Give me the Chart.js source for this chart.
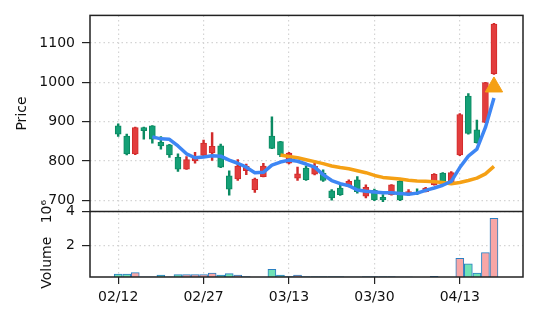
<!DOCTYPE html>
<html>
<head>
<meta charset="utf-8">
<script src="https://cdn.jsdelivr.net/npm/chart.js@4.4.1/dist/chart.umd.min.js"></script>
<style>
  html, body { margin: 0; padding: 0; background: #fff; }
  canvas { display: block; }
</style>
</head>
<body>
<canvas id="chart" width="537" height="322"></canvas>
<script>
// daily candles (index 0 = 02/12)
const opens  = [889, 863, 818, 885, 889, 847, 841, 809, 779, 800, 814, 820, 838, 762, 754, 775, 727, 760, 863, 849,
                794, 756, 782, 766, 769, 724, 731, 735, 752, 710, 725, 707, 714, 748, 714, 720, 722, 739, 769, 745,
                815, 965, 879, 898, 1022];
const closes = [868, 818, 885, 877, 855, 838, 815, 779, 803, 810, 845, 837, 784, 728, 787, 786, 754, 787, 832, 815,
                820, 767, 752, 786, 750, 706, 714, 748, 722, 733, 701, 701, 739, 701, 722, 716, 731, 766, 743, 770,
                918, 870, 846, 999, 1148];
const highs  = [894, 868, 886, 886, 890, 862, 842, 818, 811, 822, 853, 872, 843, 775, 803, 792, 756, 794, 912, 850,
                822, 784, 787, 794, 777, 727, 739, 752, 760, 739, 728, 714, 740, 750, 727, 729, 733, 768, 770, 773,
                920, 971, 904, 1000, 1150];
const lows   = [862, 815, 816, 855, 845, 830, 809, 773, 778, 794, 811, 801, 783, 713, 750, 765, 720, 759, 831, 811,
                792, 750, 750, 764, 748, 700, 712, 734, 718, 706, 699, 696, 713, 699, 712, 714, 721, 738, 741, 744,
                813, 868, 845, 897, 1020];
// volume in millions
const volumes = [0.28, 0.28, 0.36, 0.11, 0.11, 0.22, 0.11, 0.24, 0.24, 0.24, 0.24, 0.34, 0.22, 0.30, 0.22, 0.12, 0.10, 0.10, 0.56, 0.22,
                 0.12, 0.22, 0.12, 0.12, 0.12, 0.12, 0.12, 0.11, 0.11, 0.12, 0.12, 0.12, 0.12, 0.11, 0.11, 0.10, 0.10, 0.14, 0.10, 0.10,
                 1.22, 0.88, 0.34, 1.55, 3.60];
// moving average lines as drawn (null = not drawn yet)
const maFast = [null, null, null, null, 861, 856, 855, 838, 818, 808, 810, 813, 812, 802, 794, 784, 770, 771, 789, 797,
                802, 799, 792, 784, 765, 750, 742, 737, 726, 723, 721, 719, 719, 717, 715, 718, 725, 731, 738, 748,
                783, 812, 830, 885, 960];
const maSlow = [null, null, null, null, null, null, null, null, null, null, null, null, null, null, null, null, null, null, null, 815,
                811, 808, 803, 798, 793, 787, 783, 780, 775, 770, 763, 758, 756, 754, 751, 749, 748, 747, 745, 742,
                745, 750, 756, 767, 786];
// buy signal marker
const signalIndex = [44];
const signalPrice = [988];

const tickIndex  = [0, 10, 20, 30, 40];
const tickLabels = ['02/12', '02/27', '03/13', '03/30', '04/13'];
const priceTicks = [700, 800, 900, 1000, 1100];
const volumeTicks = [2, 4];

const idx = opens.map((_, i) => i);
const up = i => closes[i] >= opens[i];

const RED = '#e23d3d', RED_EDGE = '#d22b2b';
const GREEN = '#14a076', GREEN_EDGE = '#0b8a62';
const font = { family: 'DejaVu Sans', size: 14 };
const gridColor = '#d4d4d4';
const gridDash = [1.5, 3];

const framePlugin = {
    id: 'frame',
    afterDatasetsDraw(chart) {
        const { ctx, chartArea: a, scales } = chart;
        const split = scales.y.top < scales.yv.top ? scales.y.bottom : scales.yv.bottom;
        ctx.save();
        ctx.strokeStyle = '#222';
        ctx.lineWidth = 1.5;
        ctx.strokeRect(a.left, a.top, a.right - a.left, a.bottom - a.top);
        ctx.beginPath();
        ctx.moveTo(a.left, split);
        ctx.lineTo(a.right, split);
        ctx.stroke();
        ctx.restore();
    }
};

const gridOpts = (len) => ({
    color: gridColor, lineWidth: 1.2, offset: false,
    tickLength: len, tickColor: '#222', tickWidth: 1.2, tickBorderDash: []
});

new Chart(document.getElementById('chart'), {
    type: 'bar',
    data: {
        datasets: [
            {
                type: 'scatter',
                data: signalIndex.map((x, k) => ({ x: x, y: signalPrice[k] })),
                yAxisID: 'y',
                pointStyle: 'triangle',
                pointRadius: 10,
                backgroundColor: '#f5a014',
                borderColor: '#f5a014',
                order: 0
            },
            {
                type: 'line',
                data: idx.map(i => ({ x: i, y: maFast[i] })),
                yAxisID: 'y',
                borderColor: '#3d86f4',
                borderWidth: 3.5,
                pointRadius: 0,
                borderJoinStyle: 'round',
                spanGaps: false,
                order: 1
            },
            {
                type: 'line',
                data: idx.map(i => ({ x: i, y: maSlow[i] })),
                yAxisID: 'y',
                borderColor: '#f5a014',
                borderWidth: 3.5,
                pointRadius: 0,
                borderJoinStyle: 'round',
                spanGaps: false,
                order: 2
            },
            {
                // candle bodies
                data: idx.map(i => ({ x: i, y: [opens[i], closes[i]] })),
                yAxisID: 'y',
                grouped: false,
                barThickness: 6,
                backgroundColor: idx.map(i => up(i) ? RED : GREEN),
                borderColor: idx.map(i => up(i) ? RED_EDGE : GREEN_EDGE),
                borderWidth: 1,
                borderSkipped: false,
                order: 3
            },
            {
                // wicks
                data: idx.map(i => ({ x: i, y: [lows[i], highs[i]] })),
                yAxisID: 'y',
                grouped: false,
                barThickness: 1.8,
                backgroundColor: idx.map(i => up(i) ? RED_EDGE : GREEN_EDGE),
                borderWidth: 0,
                order: 4
            },
            {
                data: idx.map(i => ({ x: i, y: volumes[i] })),
                yAxisID: 'yv',
                grouped: false,
                barThickness: 8,
                backgroundColor: idx.map(i => up(i) ? '#f8a6a6' : '#6fe2b6'),
                borderColor: '#2a7fc2',
                borderWidth: 1,
                borderSkipped: false,
                order: 5
            }
        ]
    },
    options: {
        responsive: false,
        animation: false,
        devicePixelRatio: 1,
        layout: { padding: { top: 15, right: 14, left: 0, bottom: 0 } },
        plugins: { legend: { display: false }, tooltip: { enabled: false } },
        scales: {
            x: {
                type: 'linear',
                offset: false,
                min: -3.3,
                max: 47.4,
                afterBuildTicks: s => { s.ticks = tickIndex.map(v => ({ value: v })); },
                afterFit: s => { s.height = 45; },
                ticks: {
                    callback: v => tickLabels[tickIndex.indexOf(v)],
                    font: font, color: '#111', padding: 5, maxRotation: 0, autoSkip: false
                },
                grid: gridOpts(7),
                border: { display: false, dash: gridDash }
            },
            y: {
                position: 'left',
                stack: 'panes',
                stackWeight: 3,
                weight: 1,
                min: 671,
                max: 1170,
                afterBuildTicks: s => { s.ticks = priceTicks.map(v => ({ value: v })); },
                afterFit: s => { s.width = 90; },
                ticks: { font: font, color: '#111', padding: 7, callback: v => String(v) },
                title: { display: true, text: 'Price', font: font, color: '#111', padding: { top: 14, bottom: 0 } },
                grid: gridOpts(8),
                border: { display: false, dash: gridDash }
            },
            yv: {
                position: 'left',
                stack: 'panes',
                stackWeight: 1,
                weight: 0,
                min: 0.1,
                max: 4,
                afterBuildTicks: s => { s.ticks = volumeTicks.map(v => ({ value: v })); },
                afterFit: s => { s.width = 90; },
                ticks: { font: font, color: '#111', padding: 7, callback: v => String(v) },
                title: { display: true, text: 'Volume   10⁶', font: font, color: '#111', padding: { top: 39, bottom: 0 } },
                grid: gridOpts(8),
                border: { display: false, dash: gridDash }
            }
        }
    },
    plugins: [framePlugin]
});
</script>
</body>
</html>
